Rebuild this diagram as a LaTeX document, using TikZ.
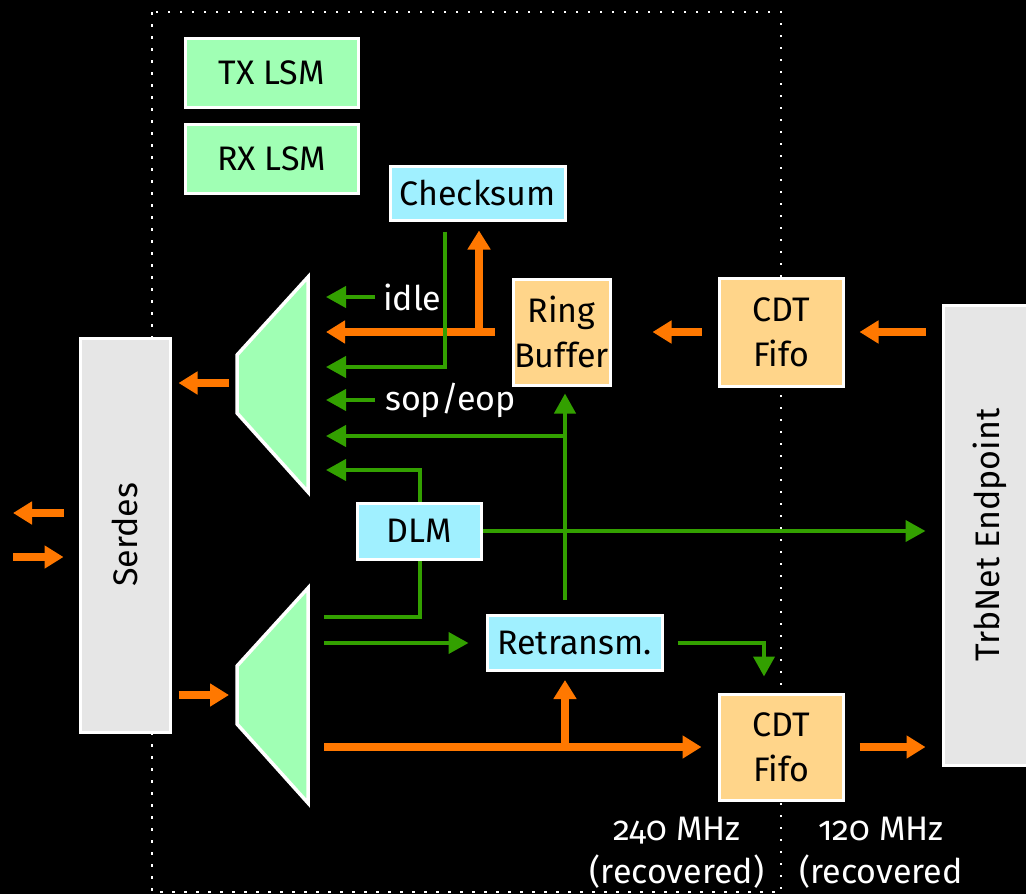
\documentclass[tikz,border=0pt]{standalone}
\usepackage{fontspec}
\setmainfont{Fira Sans}[Numbers=OldStyle]
\usetikzlibrary{arrows.meta,calc}

\definecolor{lsmgreen}{HTML}{A0FFB4}
\definecolor{blkcyan}{HTML}{A0F0FF}
\definecolor{blkorange}{HTML}{FFD58A}
\definecolor{blkgray}{HTML}{E6E6E6}
\definecolor{sigorange}{HTML}{FF7800}
\definecolor{siggreen}{HTML}{33A000}

\begin{document}
\begin{tikzpicture}[x=1pt,y=-1pt,
  blk/.style={draw=white, line width=3pt, inner sep=0pt, text=black, align=center,
              font=\fontsize{34}{45}\selectfont},
  lsm/.style={blk, fill=lsmgreen},
  ctl/.style={blk, fill=blkcyan},
  buf/.style={blk, fill=blkorange},
  ext/.style={blk, fill=blkgray},
  mux/.style={fill=lsmgreen, draw=white, line width=3.5pt, line join=miter},
  lbl/.style={text=white, inner sep=0pt, align=center, font=\fontsize{34}{43}\selectfont},
  o/.style={draw=sigorange, line width=8pt, -{Triangle[width=22pt,length=19pt]}},
  g/.style={draw=siggreen, line width=4pt, -{Triangle[width=21pt,length=20pt]}},
  gl/.style={draw=siggreen, line width=4pt},
  clk/.style={draw=white, line width=2.5pt, dash pattern=on 2.5pt off 9.5pt}]

% canvas
\fill[black] (0,0) rectangle (1026,894);
\useasboundingbox (0,0) rectangle (1026,894);
\clip (0,0) rectangle (1026,894);

% clock domain of the recovered clock
\draw[clk] (152,12) rectangle (781,892);

% state machines
\node[lsm, minimum width=173, minimum height=69] (tx) at (271.5,72.5) {TX LSM};
\node[lsm, minimum width=173, minimum height=69] (rx) at (271.5,158.5) {RX LSM};

% processing blocks
\node[ctl, minimum width=175, minimum height=54] (cks) at (477.5,193) {Checksum};
\node[buf, minimum width=97, minimum height=106] (ring) at (561.5,332) {Ring\\Buffer};
\node[buf, minimum width=124, minimum height=108] (cdt1) at (781,332) {CDT\\Fifo};
\node[ctl, minimum width=124, minimum height=56] (dlm) at (419,531) {DLM};
\node[ctl, minimum width=175, minimum height=55] (ret) at (574.5,643) {Retransm.};
\node[buf, minimum width=124, minimum height=106] (cdt2) at (781,747) {CDT\\Fifo};

% outer blocks
\node[ext, rotate=90, minimum width=394, minimum height=90] (serdes) at (125,535) {Serdes};
\node[ext, rotate=90, minimum width=460, minimum height=94] (ep) at (990,535) {TrbNet Endpoint};

% multiplexer (tx) and demultiplexer (rx)
\draw[mux] (237,355) -- (308,277) -- (308,492) -- (237,413) -- cycle;
\draw[mux] (237,666) -- (308,588) -- (308,803) -- (237,724) -- cycle;

% mux ports
\coordinate (u1) at (326,297);
\coordinate (u2) at (326,332);
\coordinate (u3) at (326,367);
\coordinate (u4) at (326,400);
\coordinate (u5) at (326,436);
\coordinate (u6) at (326,470);
\coordinate (l1) at (324,617);
\coordinate (l2) at (324,643);
\coordinate (l3) at (324,747);
\coordinate (uo) at (229,383);
\coordinate (li) at (229,695);
\coordinate (ext1) at (13,513);
\coordinate (ext2) at (13,557);
\coordinate (tj) at (479,332);
\coordinate (tj2) at (565,747);
\coordinate (rv) at (565,600);

% signal labels
\node[lbl, anchor=west] (idle) at (383,297) {idle};
\node[lbl, anchor=west] (sop) at (385,400) {sop/eop};

% data path (orange)
\draw[o, shorten <=16pt, shorten >=15pt] (cdt1.east -| ep.north) -- (cdt1.east);
\draw[o, shorten <=16pt, shorten >=41pt] (cdt1.west) -- (ring.east);
\draw[o, shorten <=17pt] (ring.west) -- (u2);
\draw[o, shorten >=9pt] (tj) -- (tj |- cks.south);
\draw[o, shorten >=7pt] (uo) -- (uo -| serdes.south);
\draw[o, shorten <=15pt] (ext1 -| serdes.north) -- (ext1);
\draw[o, shorten >=15pt] (ext2) -- (ext2 -| serdes.north);
\draw[o, shorten <=7pt] (li -| serdes.south) -- (li);
\draw[o, shorten >=16pt] (l3) -- (cdt2.west);
\draw[o, shorten >=8pt] (tj2) -- (tj2 |- ret.south);
\draw[o, shorten <=15pt, shorten >=16pt] (cdt2.east) -- (cdt2.east -| ep.north);

% control path (green)
\draw[g, shorten <=8pt] (idle.west) -- (u1);
\draw[g] ([xshift=-32.5pt,yshift=-10pt]cks.south) |- (u3);
\draw[g, shorten <=10pt] (sop.west) -- (u4);
\draw[g, shorten >=7pt] (rv) -- (rv |- ring.south);
\draw[g] (rv |- u5) -- (u5);
\draw[g] ([xshift=1pt]dlm.north) |- (u6);
\draw[g, shorten >=16pt] (dlm.east) -- (dlm.east -| ep.north);
\draw[gl] (l1) -| ([xshift=1pt]dlm.south);
\draw[g, shorten >=17pt] (l2) -- (ret.west);
\draw[g, shorten <=14pt, shorten >=16pt] (ret.east) -| ([xshift=-17pt]cdt2.north);

% clock domains
\node[lbl] (f240) at (677,853) {240 MHz\\(recovered)};
\node[lbl] (f120) at (881,853) {120 MHz\\(recovered};
\end{tikzpicture}
\end{document}
